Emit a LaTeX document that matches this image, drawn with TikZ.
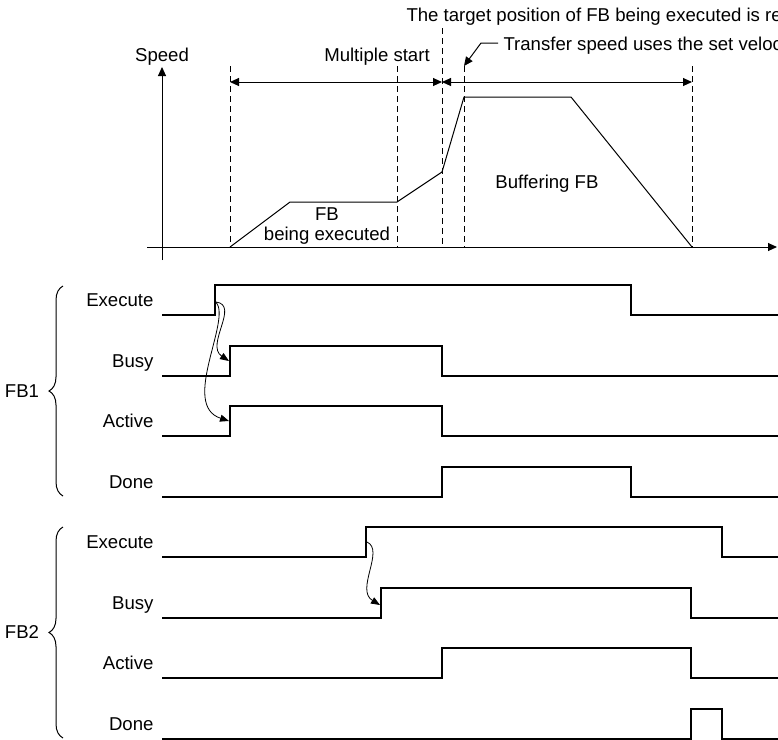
\documentclass[tikz,border=0pt]{standalone}
\usepackage{fontspec}
\setmainfont{Liberation Sans}
\usetikzlibrary{arrows.meta,calc,decorations.pathreplacing}
\tikzset{
  >={Triangle[length=4.5pt,width=4pt]},
  lbl/.style={font=\fontsize{9.3}{11}\selectfont,inner sep=0pt},
  sig/.style={line width=0.65pt},
  guide/.style={dash pattern=on 3.2pt off 1.8pt,line width=0.45pt},
  cause/.style={->,line width=0.4pt,>={Triangle[length=4.5pt,width=3.5pt]}},
  grp/.style={decorate,decoration={brace,amplitude=7pt},line width=0.5pt},
  every picture/.style={line width=0.5pt},
}
\begin{document}
\begin{tikzpicture}[x=0.5pt,y=-0.5pt]
\useasboundingbox (0,0) rectangle (778,740);
% speed profile
\coordinate (xa) at (0,247); \coordinate (ma) at (0,82);
\coordinate (d1) at (230,66); \coordinate (d2) at (397,66); \coordinate (d3) at (442,28);
\coordinate (d4) at (464,66); \coordinate (d5) at (692,66);
\draw[->] (162,260) -- (162,67);
\draw[->] (147,247) -- (777,247);
\node[lbl,anchor=base] (speed) at (162,61) {Speed};
\node[lbl,anchor=base] (multi) at (377,61) {Multiple start};
\draw[guide] (d1) -- (d1 |- xa); \draw[guide] (d2) -- (d2 |- xa); \draw[guide] (d3) -- (d3 |- xa);
\draw[guide] (d4) -- (d4 |- xa); \draw[guide] (d5) -- (d5 |- xa);
\draw[<->] (d1 |- ma) -- (d3 |- ma); \draw[<->] (d3 |- ma) -- (d5 |- ma);
\draw (230,247) -- (290,202) -- (397,202) -- (442,172) -- (464,97) -- (571,97) -- (692,247);
\node[lbl,anchor=base] (fbx) at (327,220) {FB};
\node[lbl,anchor=base] (fbxb) at (327,240) {being executed};
\node[lbl,anchor=base] (buf) at (547,188) {Buffering FB};
\node[lbl,anchor=base west] (target) at (406,21) {The target position of FB being executed is re};
\node[lbl,anchor=base west] (transfer) at (503,50) {Transfer speed uses the set veloc};
\coordinate (lead) at (498,43);
\draw[->] (lead) -- (481,43) -- (d4);
% FB1
\draw[grp] (63,496) -- (63,286);
\node[lbl] (fb1) at (22,391) {FB1};
\node[lbl,anchor=base east] (ex1) at (154,306) {Execute};
\node[lbl,anchor=base east] (busy1) at (154,367) {Busy};
\node[lbl,anchor=base east] (act1) at (154,427) {Active};
\node[lbl,anchor=base east] (done1) at (154,488) {Done};
\draw[sig] (162,315) -- (215,315) -- (215,285) -- (631,285) -- (631,315) -- (778,315);
\draw[sig] (162,376) -- (230,376) -- (230,346) -- (442,346) -- (442,376) -- (778,376);
\draw[sig] (162,436) -- (230,436) -- (230,406) -- (442,406) -- (442,436) -- (778,436);
\draw[sig] (162,497) -- (442,497) -- (442,467) -- (631,467) -- (631,497) -- (778,497);
\coordinate (c1) at (216,302); \coordinate (c1b) at (229,361); \coordinate (c1a) at (229,421);
\draw[cause] (c1) .. controls (240,305) and (205,345) .. (c1b);
\draw[cause] (c1) .. controls (232,320) and (180,405) .. (c1a);
% FB2
\draw[grp] (63,738) -- (63,527);
\node[lbl] (fb2) at (22,632) {FB2};
\node[lbl,anchor=base east] (ex2) at (154,548) {Execute};
\node[lbl,anchor=base east] (busy2) at (154,609) {Busy};
\node[lbl,anchor=base east] (act2) at (154,669) {Active};
\node[lbl,anchor=base east] (done2) at (154,730) {Done};
\draw[sig] (162,557) -- (366,557) -- (366,527) -- (722,527) -- (722,557) -- (778,557);
\draw[sig] (162,618) -- (381,618) -- (381,588) -- (691,588) -- (691,618) -- (778,618);
\draw[sig] (162,678) -- (442,678) -- (442,648) -- (691,648) -- (691,678) -- (778,678);
\draw[sig] (162,739) -- (691,739) -- (691,709) -- (722,709) -- (722,739) -- (778,739);
\coordinate (c2) at (367,542); \coordinate (c2b) at (380,605);
\draw[cause] (c2) .. controls (385,550) and (355,590) .. (c2b);
\end{tikzpicture}
\end{document}
